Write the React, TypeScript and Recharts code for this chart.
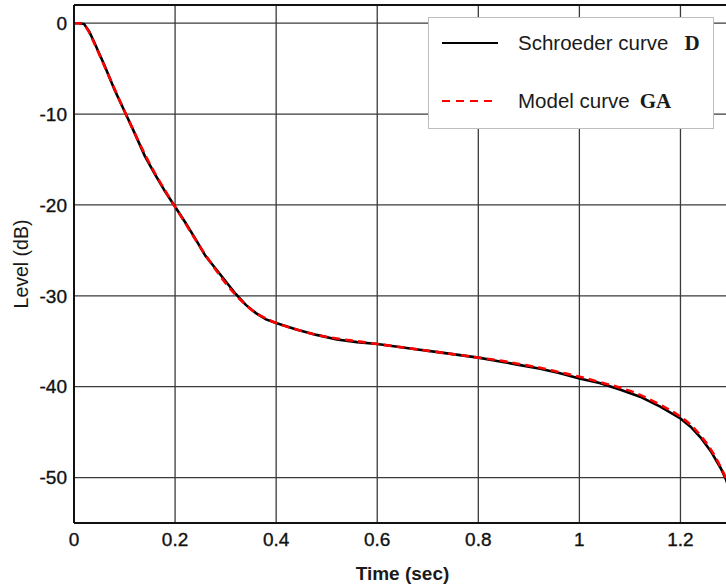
import { LineChart, Line, XAxis, YAxis, CartesianGrid, Legend, ReferenceLine } from 'recharts'

const time = [
  0, 0.01, 0.02, 0.03, 0.04, 0.06, 0.08, 0.1, 0.12, 0.14, 0.16, 0.18, 0.2, 0.22, 0.24, 0.26, 0.28, 0.3,
  0.32, 0.34, 0.36, 0.38, 0.4, 0.44, 0.48, 0.52, 0.56, 0.6, 0.64, 0.68, 0.72, 0.76, 0.8, 0.84, 0.88,
  0.92, 0.96, 1, 1.04, 1.08, 1.12, 1.16, 1.2, 1.22, 1.24, 1.26, 1.28, 1.29, 1.3,
]

const schroeder = [
  0, 0, -0.1, -0.9, -2.1, -4.6, -7.3, -9.7, -12.1, -14.6, -16.6, -18.5, -20.2, -21.9, -23.7, -25.6,
  -27.0, -28.4, -29.8, -31.0, -31.9, -32.6, -33.0, -33.7, -34.3, -34.8, -35.1, -35.3, -35.6, -35.9,
  -36.2, -36.5, -36.8, -37.2, -37.6, -38.0, -38.5, -39.1, -39.6, -40.3, -41.1, -42.2, -43.5, -44.4,
  -45.6, -47.1, -49.0, -50.2, -51.8,
]

const model = [
  0, 0, -0.2, -1.0, -2.2, -4.7, -7.2, -9.7, -12.1, -14.4, -16.5, -18.4, -20.2, -22.0, -23.8, -25.5,
  -27.1, -28.6, -29.9, -31.0, -31.9, -32.5, -33.0, -33.7, -34.3, -34.7, -35.0, -35.3, -35.6, -35.9,
  -36.2, -36.5, -36.8, -37.1, -37.5, -37.9, -38.4, -38.9, -39.5, -40.1, -40.9, -42.0, -43.3, -44.2,
  -45.4, -46.9, -48.9, -50.1, -51.6,
]

const xTicks = [0, 0.2, 0.4, 0.6, 0.8, 1, 1.2]
const yTicks = [0, -10, -20, -30, -40, -50]

const data = time.map((t, i) => ({ t, schroeder: schroeder[i], model: model[i] }))

const FONT = 'Arial, "Liberation Sans", sans-serif'
const SERIF = '"Times New Roman", "Liberation Serif", serif'
const tickStyle = { fontSize: 19, fill: '#111', stroke: '#111', strokeWidth: 0.35, fontFamily: FONT }

function renderLegend() {
  const row = { display: 'flex', alignItems: 'center', height: 58 } as const
  return (
    <div
      style={{
        width: 286, height: 112, boxSizing: 'border-box', background: '#fff',
        border: '1px solid #bdbdbd', fontFamily: FONT, fontSize: 20.5, color: '#1a1a1a',
      }}
    >
      <div style={{ ...row, marginTop: -4 }}>
        <svg width={89} height={10} style={{ flex: 'none' }}>
          <line x1={13} y1={5} x2={69} y2={5} stroke="#000" strokeWidth={2} />
        </svg>
        <span>Schroeder curve</span>
        <span style={{ fontFamily: SERIF, fontWeight: 'bold', fontSize: 21, marginLeft: 16 }}>D</span>
      </div>
      <div style={row}>
        <svg width={89} height={10} style={{ flex: 'none' }}>
          <line x1={13} y1={5} x2={69} y2={5} stroke="#ff0000" strokeWidth={2} strokeDasharray="8 6" />
        </svg>
        <span>Model curve</span>
        <span style={{ fontFamily: SERIF, fontWeight: 'bold', fontSize: 21, marginLeft: 10 }}>GA</span>
      </div>
    </div>
  )
}

export default function App() {
  return (
    <div style={{ position: 'absolute', left: 0, top: 0, width: 726, height: 587, overflow: 'hidden', background: '#fff' }}>
      <LineChart width={731} height={587} data={data} margin={{ top: 5, right: 0, left: 0, bottom: 0 }}>
        <CartesianGrid stroke="#3a3a3a" strokeWidth={1.3} />
        <XAxis
          type="number"
          dataKey="t"
          domain={[0, 1.3]}
          ticks={xTicks}
          allowDataOverflow
          height={64}
          tickSize={0}
          tickMargin={10}
          axisLine={{ stroke: '#111', strokeWidth: 2 }}
          tick={tickStyle}
          label={{ value: 'Time (sec)', position: 'insideBottom', offset: 7, style: { fontSize: 19, fontWeight: 'bold', fill: '#1a1a1a', fontFamily: FONT } }}
        />
        <YAxis
          type="number"
          domain={[-55, 2]}
          ticks={yTicks}
          allowDataOverflow
          width={74}
          tickSize={0}
          tickMargin={7}
          axisLine={{ stroke: '#111', strokeWidth: 2 }}
          tick={tickStyle}
          label={{ value: 'Level (dB)', angle: -90, position: 'insideLeft', offset: 21, style: { textAnchor: 'middle', fontSize: 19.5, fill: '#1a1a1a', fontFamily: FONT } }}
        />
        <ReferenceLine y={2} stroke="#111" strokeWidth={2} />
        <Line type="linear" dataKey="schroeder" stroke="#000" strokeWidth={2.6} dot={false} isAnimationActive={false} />
        <Line type="monotone" dataKey="model" stroke="#ff0000" strokeWidth={2.6} strokeDasharray="8 5" dot={false} isAnimationActive={false} />
        <Legend
          layout="vertical"
          align="center"
          verticalAlign="middle"
          content={renderLegend}
          wrapperStyle={{ position: 'absolute', left: 428, top: 17, width: 286, height: 112 }}
        />
      </LineChart>
    </div>
  )
}
